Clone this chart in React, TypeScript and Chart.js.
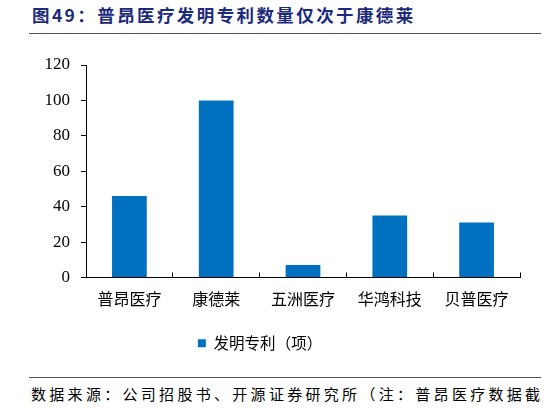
import React, { useEffect, useRef } from "react";
import { Chart, registerables } from "chart.js";

Chart.register(...registerables);

const categories = ["普昂医疗", "康德莱", "五洲医疗", "华鸿科技", "贝普医疗"];
const patents = [46, 100, 7, 35, 31];
const seriesLabel = "发明专利（项）";
const yTicks = [0, 20, 40, 60, 80, 100, 120];
const titleText = "图49：普昂医疗发明专利数量仅次于康德莱";
const footerText = "数据来源：公司招股书、开源证券研究所（注：普昂医疗数据截";

const CJK = '"Noto Sans CJK SC", "Noto Sans CJK", sans-serif';
const SERIF = '"Liberation Serif", "Times New Roman", serif';

export default function App() {
  const canvasRef = useRef<HTMLCanvasElement | null>(null);

  useEffect(() => {
    if (!canvasRef.current) return;
    const chart = new Chart(canvasRef.current, {
      type: "bar",
      data: {
        labels: categories,
        datasets: [
          {
            label: seriesLabel,
            data: patents,
            backgroundColor: "#0070C0",
            borderWidth: 0,
            categoryPercentage: 1,
            barPercentage: 0.4,
          },
        ],
      },
      options: {
        animation: false,
        responsive: false,
        maintainAspectRatio: false,
        layout: { padding: { top: 25, right: 26, left: 0, bottom: 0 } },
        plugins: {
          tooltip: { enabled: false },
          legend: {
            position: "bottom",
            labels: {
              boxWidth: 8,
              boxHeight: 8,
              padding: 10,
              color: "#000",
              font: { family: CJK, size: 15.5 },
            },
          },
        },
        scales: {
          x: {
            grid: {
              display: true,
              drawOnChartArea: false,
              drawTicks: true,
              tickLength: -5,
              color: "#000",
              offset: true,
            },
            border: { display: true, color: "#000", width: 1 },
            ticks: {
              color: "#000",
              font: { family: CJK, size: 16 },
              padding: 17,
              maxRotation: 0,
              autoSkip: false,
            },
            afterFit: (scale: any) => {
              scale.height = 48;
            },
          },
          y: {
            min: 0,
            max: 120,
            afterBuildTicks: (scale: any) => {
              scale.ticks = yTicks.map((v) => ({ value: v }));
            },
            grid: {
              display: true,
              drawOnChartArea: false,
              drawTicks: true,
              tickLength: 5,
              color: "#000",
            },
            border: { display: true, color: "#000", width: 1 },
            ticks: {
              color: "#000",
              font: { family: SERIF, size: 17 },
              padding: 11,
            },
            afterFit: (scale: any) => {
              scale.width = 86;
            },
          },
        },
      },
    });
    return () => chart.destroy();
  }, []);

  return (
    <div
      style={{
        position: "fixed",
        left: 0,
        top: 0,
        width: 546,
        height: 408,
        background: "#fff",
        overflow: "hidden",
      }}
    >
      <div
        style={{
          position: "absolute",
          left: 32,
          top: 3,
          fontFamily: CJK,
          fontWeight: 700,
          fontSize: 17.5,
          letterSpacing: "2.4px",
          color: "#1c2a7c",
          whiteSpace: "nowrap",
          lineHeight: "24px",
        }}
      >
        {titleText}
      </div>
      <div
        style={{
          position: "absolute",
          left: 29,
          top: 33,
          width: 512,
          height: 0,
          borderTop: "1.5px solid #555",
        }}
      />
      <canvas
        ref={canvasRef}
        width={546}
        height={321}
        style={{ position: "absolute", left: 0, top: 40, width: 546, height: 321 }}
      />
      <div
        style={{
          position: "absolute",
          left: 29,
          top: 377,
          width: 512,
          height: 0,
          borderTop: "1.5px solid #555",
        }}
      />
      <div
        style={{
          position: "absolute",
          left: 31,
          top: 384,
          fontFamily: CJK,
          fontSize: 15,
          letterSpacing: "3.3px",
          color: "#000",
          whiteSpace: "nowrap",
          lineHeight: "20px",
        }}
      >
        {footerText}
      </div>
    </div>
  );
}
